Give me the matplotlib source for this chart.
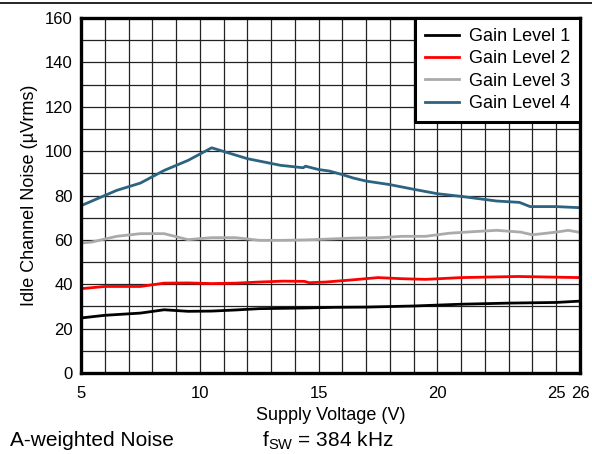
import matplotlib
matplotlib.use("Agg")
import matplotlib.pyplot as plt
from matplotlib.lines import Line2D

plt.rcParams['font.family'] = ['Liberation Sans', 'DejaVu Sans']

# Data
v1 = [5, 6, 7.5, 8.5, 9.5, 10.5, 11.5, 12.5, 14.5, 15.67, 17, 19, 21, 23, 25, 26]
g1 = [24.8, 26.0, 27.0, 28.5, 27.8, 27.9, 28.4, 29.0, 29.3, 29.6, 29.7, 30.2, 31.0, 31.5, 31.8, 32.4]

v2 = [5, 6, 7.5, 8.5, 9.5, 10.5, 11.5, 12.5, 13.5, 14.4, 14.6, 15.3, 16.45, 17.5, 18.5, 19.5, 21, 23.4, 26]
g2 = [38.0, 39.0, 39.0, 40.5, 40.6, 40.3, 40.5, 41.0, 41.4, 41.3, 40.7, 41.0, 42.0, 43.0, 42.5, 42.2, 43.0, 43.5, 43.0]

v3 = [5, 5.45, 6.5, 7.5, 8.5, 9.5, 10.5, 11.5, 12.5, 13.5, 14.5, 15.5, 16.45, 17.6, 18.5, 19.5, 20.5, 21.5, 22.5, 23.5, 24, 25, 25.5, 26]
g3 = [58.6, 59.0, 61.6, 62.8, 62.8, 60.1, 61.0, 61.0, 59.8, 59.8, 60.0, 60.4, 60.8, 61.0, 61.6, 61.6, 63.0, 63.7, 64.3, 63.5, 62.3, 63.5, 64.3, 63.4]

v4 = [5, 6.5, 7.5, 8.5, 9.5, 10.5, 12.0, 13.4, 14.35, 14.45, 15.0, 15.46, 16.0, 16.45, 17, 18, 19, 20, 21, 22, 22.5, 23.45, 23.9, 25, 26]
g4 = [75.4, 82.3, 85.6, 91.3, 95.8, 101.5, 96.6, 93.6, 92.5, 93.2, 91.7, 91.0, 89.4, 87.9, 86.5, 84.9, 82.8, 80.8, 79.6, 78.2, 77.5, 76.9, 75.0, 75.0, 74.5]

series_labels = ['Gain Level 1', 'Gain Level 2', 'Gain Level 3', 'Gain Level 4']
series_colors = ['#000000', '#FF0000', '#AAAAAA', '#2B6381']

xticks = [5, 10, 15, 20, 25, 26]
yticks = list(range(0, 161, 20))

fig = plt.figure(figsize=(5.92, 4.54), dpi=100)
ax = fig.add_axes([81/592, 1-373/454, (580-81)/592, (373-18)/454])

for x, y, lab, c in zip([v1, v2, v3, v4], [g1, g2, g3, g4], series_labels, series_colors):
    ax.plot(x, y, color=c, lw=2.0, label=lab, zorder=3, solid_joinstyle='round')

ax.set_xlim(5, 26)
ax.set_ylim(0, 160)
ax.set_xticks(xticks)
ax.set_xticklabels([str(t) for t in xticks])
ax.set_yticks(yticks)
ax.set_xticks(range(5, 27), minor=True)
ax.set_yticks(range(0, 161, 10), minor=True)
ax.grid(which='both', color='#222222', lw=0.9, zorder=1)
ax.tick_params(which='both', length=0, labelsize=12, pad=6)
ax.tick_params(axis='x', pad=9)
for s in ax.spines.values():
    s.set_linewidth(2.4)
    s.set_zorder(5)

ax.set_xlabel('Supply Voltage (V)', fontsize=13, labelpad=5)
ax.set_ylabel('Idle Channel Noise (\u00b5Vrms)', fontsize=13, labelpad=5)

leg = ax.legend(loc='upper right', fontsize=13, frameon=True, fancybox=False,
                borderaxespad=0, handlelength=1.9, handletextpad=0.55,
                labelspacing=0.3, borderpad=0.55)
leg.get_frame().set_edgecolor('black')
leg.get_frame().set_linewidth(2.2)
leg.get_frame().set_alpha(1)
leg.set_zorder(6)

fig.add_artist(Line2D([0, 1], [1-3/454, 1-3/454], color='black', lw=1.2))
fig.text(10/592, 1-441/454, 'A-weighted Noise', fontsize=15, va='center', ha='left')
fig.text(262/592, 1-441/454, r'f$_{\mathregular{SW}}$ = 384 kHz', fontsize=15, va='center', ha='left')

fig.savefig('out.png', dpi=100)
